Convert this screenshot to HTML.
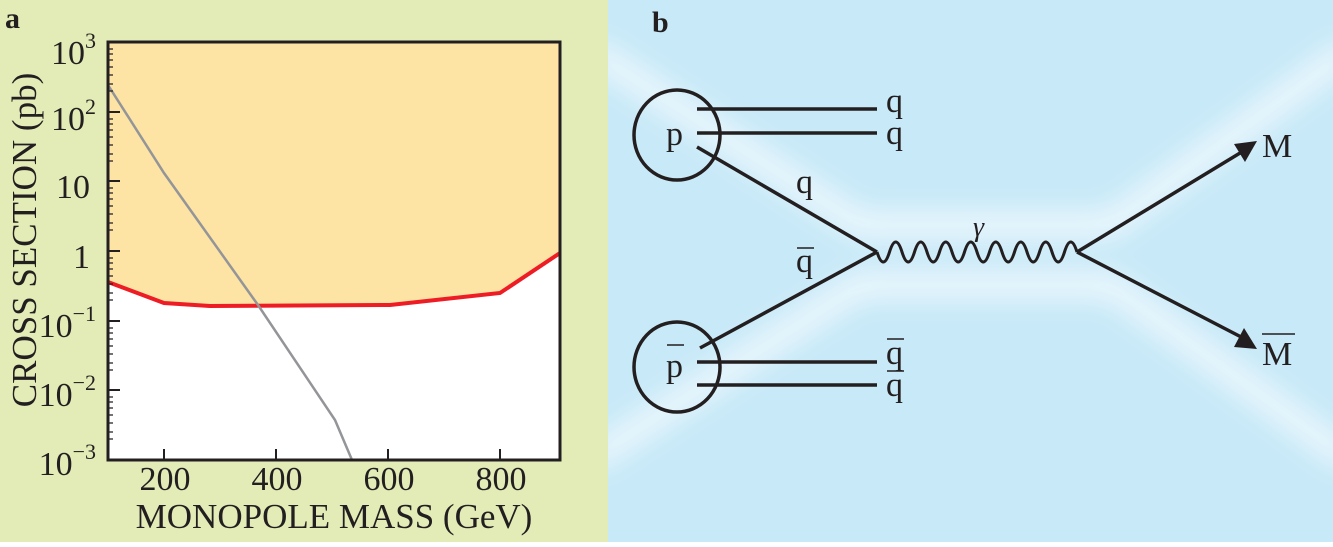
<!DOCTYPE html>
<html><head><meta charset="utf-8"><style>
html,body{margin:0;padding:0;}
body{width:1333px;height:542px;overflow:hidden;}
svg text{font-family:"Liberation Serif",serif;fill:#231f20;}
</style></head><body>
<svg width="1333" height="542" viewBox="0 0 1333 542" xmlns="http://www.w3.org/2000/svg">
<defs>
<filter id="bl" x="-20%" y="-50%" width="140%" height="200%"><feGaussianBlur stdDeviation="14"/></filter>
<clipPath id="rc"><rect x="608" y="0" width="725" height="542"/></clipPath>
<clipPath id="pc"><rect x="108" y="42" width="452" height="418"/></clipPath>
</defs>
<rect x="0" y="0" width="608" height="542" fill="#e3ecb7"/>
<rect x="608" y="0" width="725" height="542" fill="#c8e9f8"/>
<g clip-path="url(#rc)" filter="url(#bl)" stroke="#ffffff" fill="none" stroke-width="20" opacity="0.85">
<polyline points="590,50 860,225 1110,225 1350,50"/>
<polyline points="590,460 860,285 1110,285 1350,460"/>
</g>
<!-- plot -->
<rect x="108" y="42" width="452" height="418" fill="#ffffff"/>
<polygon points="108,42 560,42 560,253 500,293 390,305 210,306 164,303 108,282" fill="#fde3a4"/>
<g clip-path="url(#pc)">
<polyline points="108,282 164,303 210,306 390,305 500,293 560,253" fill="none" stroke="#ee1c24" stroke-width="4"/>
<polyline points="108,85 164,173 258,305 335,420 352,460" fill="none" stroke="#939598" stroke-width="2.5"/>
</g>
<g stroke="#231f20" stroke-width="2">
<line x1="108" y1="112" x2="120" y2="112"/><line x1="108" y1="181" x2="120" y2="181"/>
<line x1="108" y1="251" x2="120" y2="251"/><line x1="108" y1="321" x2="120" y2="321"/>
<line x1="108" y1="390" x2="120" y2="390"/>
<line x1="164" y1="460" x2="164" y2="449"/><line x1="276" y1="460" x2="276" y2="449"/>
<line x1="388" y1="460" x2="388" y2="449"/><line x1="500" y1="460" x2="500" y2="449"/>
</g>
<g stroke="#231f20" stroke-width="1.2">
<path d="M108 49h5M108 54h5M108 60h5M108 67h5M108 75h5M108 84h5M108 91h5M108 119h5M108 124h5M108 130h5M108 137h5M108 145h5M108 154h5M108 161h5M108 188h5M108 193h5M108 199h5M108 206h5M108 214h5M108 223h5M108 230h5M108 258h5M108 263h5M108 269h5M108 276h5M108 284h5M108 293h5M108 300h5M108 328h5M108 333h5M108 339h5M108 346h5M108 354h5M108 363h5M108 370h5M108 397h5M108 402h5M108 408h5M108 415h5M108 423h5M108 432h5M108 439h5"/>
</g>
<rect x="108" y="42" width="452" height="418" fill="none" stroke="#231f20" stroke-width="3"/>
<text x="5" y="28" font-size="30" font-weight="bold">a</text>
<g font-size="34" text-anchor="end">
<text x="96" y="64">10<tspan font-size="22" dy="-16">3</tspan></text>
<text x="96" y="130">10<tspan font-size="22" dy="-16">2</tspan></text>
<text x="90" y="198">10</text>
<text x="90" y="268">1</text>
<text x="96" y="337">10<tspan font-size="22" dy="-16">−1</tspan></text>
<text x="96" y="406">10<tspan font-size="22" dy="-16">−2</tspan></text>
<text x="96" y="475">10<tspan font-size="22" dy="-16">−3</tspan></text>
</g>
<g font-size="34" text-anchor="middle">
<text x="165" y="490">200</text><text x="277" y="490">400</text>
<text x="389" y="490">600</text><text x="501" y="490">800</text>
<text x="334" y="528" font-size="35">MONOPOLE MASS (GeV)</text>
</g>
<text transform="translate(26,240) rotate(-90)" font-size="35" text-anchor="middle" dy="10">CROSS SECTION (pb)</text>
<!-- diagram -->
<text x="652" y="32" font-size="30" font-weight="bold">b</text>
<g stroke="#231f20" stroke-width="3.5" fill="none">
<ellipse cx="677" cy="135" rx="43" ry="45"/>
<ellipse cx="677" cy="367" rx="43" ry="45"/>
<line x1="697" y1="109" x2="877" y2="109"/><line x1="697" y1="133" x2="877" y2="133"/>
<line x1="697" y1="362" x2="877" y2="362"/><line x1="697" y1="385" x2="877" y2="385"/>
<line x1="697" y1="147" x2="877" y2="252"/>
<line x1="700" y1="348" x2="877" y2="252"/>
<line x1="1077" y1="252" x2="1245" y2="150"/>
<line x1="1077" y1="252" x2="1245" y2="339"/>
<path stroke-width="3" d="M877 252 q6.25 20 12.5 0 q6.25 -20 12.5 0 q6.25 20 12.5 0 q6.25 -20 12.5 0 q6.25 20 12.5 0 q6.25 -20 12.5 0 q6.25 20 12.5 0 q6.25 -20 12.5 0 q6.25 20 12.5 0 q6.25 -20 12.5 0 q6.25 20 12.5 0 q6.25 -20 12.5 0 q6.25 20 12.5 0 q6.25 -20 12.5 0 q6.25 20 12.5 0 q6.25 -20 12.5 0"/>
</g>
<polygon points="1257,141 1234,144 1245,162" fill="#231f20"/>
<polygon points="1257,349 1234,347 1244,328" fill="#231f20"/>
<g font-size="34">
<text x="666" y="145">p</text>
<text x="666" y="377">p</text><line x1="667" y1="345" x2="684" y2="345" stroke="#231f20" stroke-width="1.6"/>
<text x="886" y="112">q</text><text x="886" y="144">q</text>
<text x="886" y="364">q</text><text x="886" y="396">q</text>
<line x1="887" y1="339" x2="904" y2="339" stroke="#231f20" stroke-width="1.6"/>
<line x1="887" y1="371" x2="904" y2="371" stroke="#231f20" stroke-width="1.6"/>
<text x="796" y="193">q</text>
<text x="796" y="272">q</text><line x1="797" y1="248" x2="814" y2="248" stroke="#231f20" stroke-width="1.6"/>
<text x="973" y="236" font-style="italic" font-size="28">γ</text>
<text x="1262" y="157">M</text>
<text x="1262" y="365">M</text><line x1="1262" y1="334" x2="1295" y2="334" stroke="#231f20" stroke-width="1.6"/>
</g>
</svg>
</body></html>
